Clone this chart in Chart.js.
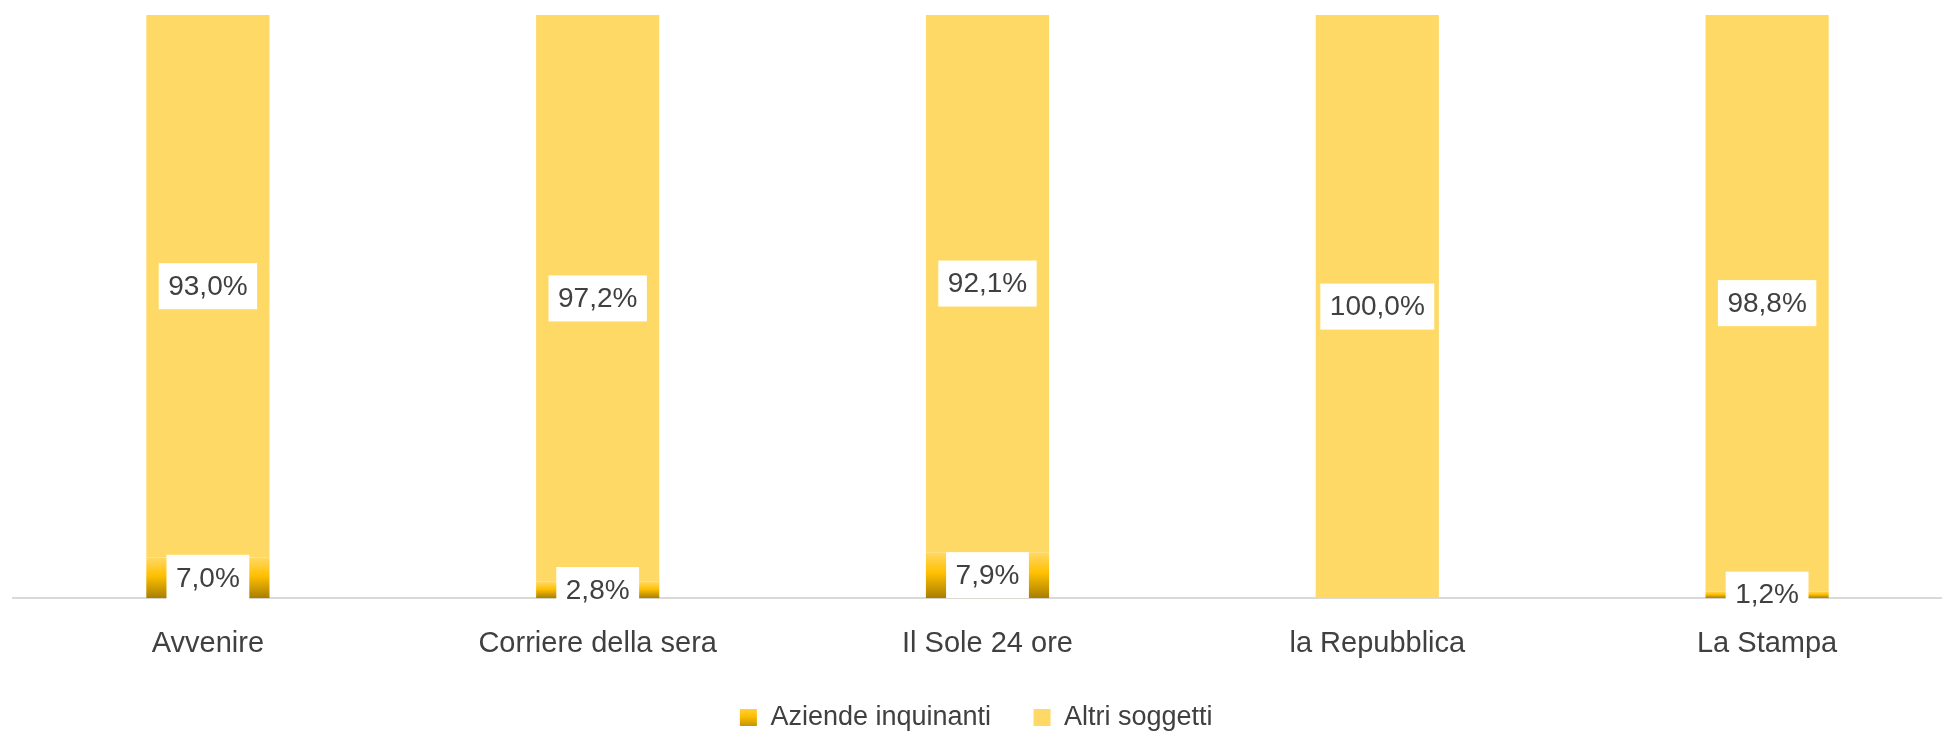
<!DOCTYPE html>
<html>
<head>
<meta charset="utf-8">
<script src="https://cdn.jsdelivr.net/npm/chart.js@4/dist/chart.umd.min.js"></script>
<style>
  html, body { margin: 0; padding: 0; background: #fff; overflow: hidden; }
  #wrap { position: absolute; left: 0; top: 0; width: 1975px; height: 732px; }
</style>
</head>
<body>
<div id="wrap"><canvas id="canvas"></canvas></div>
<script>
// data
const categories = ['Avvenire', 'Corriere della sera', 'Il Sole 24 ore', 'la Repubblica', 'La Stampa'];
const aziendeInquinanti = [7.0, 2.8, 7.9, 0, 1.2];
const altriSoggetti = [93.0, 97.2, 92.1, 100.0, 98.8];
const seriesNames = ['Aziende inquinanti', 'Altri soggetti'];

const FONT = "'Liberation Sans', Arial, sans-serif";
const TEXT = '#404040';

function goldGradient(c2d, top, bottom) {
  const g = c2d.createLinearGradient(0, top, 0, bottom);
  g.addColorStop(0, '#FFD966');
  g.addColorStop(0.45, '#FFC000');
  g.addColorStop(1, '#A87E00');
  return g;
}

// white boxed labels in the middle of each segment
const boxLabels = {
  id: 'boxLabels',
  afterDatasetsDraw(chart) {
    const ctx = chart.ctx;
    ctx.save();
    ctx.font = '28px ' + FONT;
    ctx.textAlign = 'center';
    ctx.textBaseline = 'middle';
    chart.data.datasets.forEach((ds, i) => {
      const meta = chart.getDatasetMeta(i);
      meta.data.forEach((bar, j) => {
        const v = ds.data[j];
        if (!v) return;
        const txt = v.toFixed(1).replace('.', ',') + '%';
        const cy = (bar.y + bar.base) / 2;
        const w = ctx.measureText(txt).width + 19;
        const h = 46;
        ctx.fillStyle = '#fff';
        ctx.fillRect(bar.x - w / 2, cy - h / 2, w, h);
        ctx.fillStyle = TEXT;
        ctx.fillText(txt, bar.x, cy + 1);
      });
    });
    ctx.restore();
  }
};

// gradient swatch in the legend
const legendSwatch = {
  id: 'legendSwatch',
  beforeDraw(chart) {
    const lg = chart.legend;
    if (!lg || !lg.legendHitBoxes || !lg.legendHitBoxes.length) return;
    const hb = lg.legendHitBoxes[0];
    lg.legendItems[0].fillStyle = goldGradient(chart.ctx, hb.top, hb.top + hb.height);
  }
};

const ctx = document.getElementById('canvas').getContext('2d');
new Chart(ctx, {
  type: 'bar',
  data: {
    labels: categories,
    datasets: [
      {
        label: seriesNames[0] + '   ',
        data: aziendeInquinanti,
        backgroundColor: (c) => {
          const chart = c.chart;
          if (c.type !== 'data' || !chart.chartArea || !chart.scales.y) return '#F0B400';
          const y = chart.scales.y;
          const top = y.getPixelForValue(c.raw);
          const base = y.getPixelForValue(0);
          if (base - top < 1) return '#FFC000';
          return goldGradient(chart.ctx, top, base);
        },
        borderWidth: 0
      },
      {
        label: seriesNames[1] + '   ',
        data: altriSoggetti,
        backgroundColor: '#FFD966',
        borderWidth: 0
      }
    ]
  },
  options: {
    responsive: true,
    maintainAspectRatio: false,
    animation: false,
    layout: { padding: { top: 15, left: 13, right: 13, bottom: -9 } },
    datasets: { bar: { barPercentage: 1, categoryPercentage: 0.316 } },
    scales: {
      x: {
        stacked: true,
        grid: { display: false },
        border: { display: true, color: '#D9D9D9', width: 2 },
        ticks: { color: TEXT, font: { family: FONT, size: 29 }, padding: 20 },
        afterFit: (scale) => { scale.height += 3; }
      },
      y: {
        stacked: true,
        display: false,
        min: 0,
        max: 100
      }
    },
    plugins: {
      tooltip: { enabled: false },
      legend: {
        position: 'bottom',
        labels: {
          color: TEXT,
          font: { family: FONT, size: 27 },
          boxWidth: 17,
          boxHeight: 17,
          padding: 20
        }
      }
    }
  },
  plugins: [boxLabels, legendSwatch]
});
</script>
</body>
</html>
